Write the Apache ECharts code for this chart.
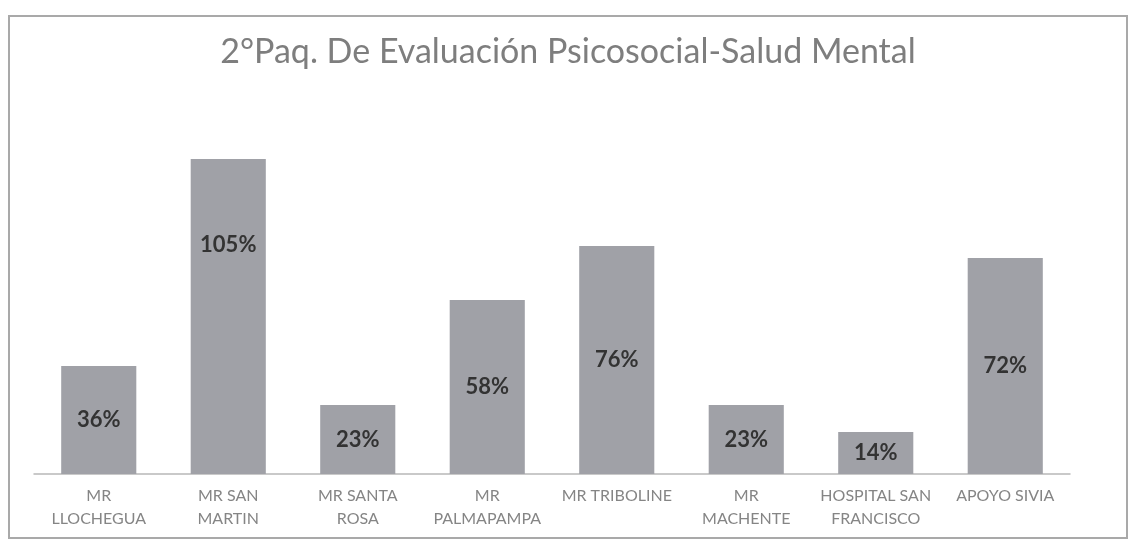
<!DOCTYPE html>
<html>
<head>
<meta charset="utf-8">
<script src="https://cdn.jsdelivr.net/npm/echarts@6/dist/echarts.min.js"></script>
<style>
  html, body { margin: 0; padding: 0; background: #fff; }
  #chart {
    position: absolute; left: 8px; top: 15px;
    width: 1120px; height: 524px;
    border: 2px solid #a9a9a9; box-sizing: border-box;
  }
</style>
</head>
<body>
<div id="chart"></div>
<script>
// categorías (eje x)
const categorias = [
  'MR\nLLOCHEGUA', 'MR SAN\nMARTIN', 'MR SANTA\nROSA', 'MR\nPALMAPAMPA',
  'MR TRIBOLINE', 'MR\nMACHENTE', 'HOSPITAL SAN\nFRANCISCO', 'APOYO SIVIA'
];
// porcentaje de avance
const valores = [36, 105, 23, 58, 76, 23, 14, 72];
const titulo = '2°Paq. De Evaluación Psicosocial-Salud Mental';

const chart = echarts.init(document.getElementById('chart'));

const option = {
  backgroundColor: '#fff',
  title: {
    text: titulo,
    left: 'center',
    top: 13,
    textStyle: {
      fontFamily: 'Lato',
      fontSize: 34,
      fontWeight: 'normal',
      color: '#7e7e7e',
    },
  },
  grid: {
    left: 24,
    right: 56,
    top: 127,
    bottom: 63,
  },
  xAxis: {
    type: 'category',
    data: categorias,
    axisTick: { show: false },
    axisLine: { lineStyle: { color: '#b8b8b8', width: 1.5 } },
    axisLabel: {
      interval: 0,
      margin: 10,
      fontFamily: 'Lato',
      fontSize: 16,
      lineHeight: 23,
      color: '#858585',
    },
  },
  yAxis: {
    type: 'value',
    min: 0,
    max: 110,
    show: false,
    splitLine: { show: false },
  },
  series: [
    {
      type: 'bar',
      barWidth: '58%',
      itemStyle: { color: '#a0a1a7' },
      label: {
        show: true,
        position: 'inside',
        formatter: '{c}%',
        fontFamily: 'Lato',
        fontWeight: 'bold',
        fontSize: 22,
        color: '#333333',
      },
      data: valores.map((v, i) => {
        // la etiqueta de 105% queda más arriba en el original
        if (i === 1) {
          return { value: v, label: { offset: [0, -72] } };
        }
        return v;
      }),
    },
  ],
};

chart.setOption(option);
</script>
</body>
</html>
